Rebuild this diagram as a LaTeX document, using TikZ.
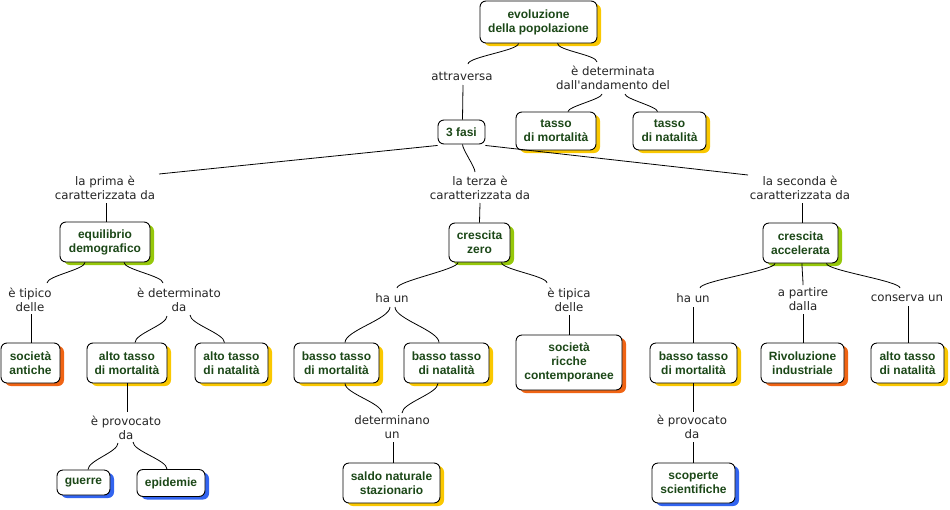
\documentclass[tikz,border=0pt]{standalone}
\usepackage{fontspec}
\setmainfont{DejaVu Sans}
\newfontfamily\cfont{Liberation Sans}
\usetikzlibrary{shadows}
\definecolor{cgreen}{RGB}{28,72,24}
\definecolor{shY}{RGB}{250,200,0}
\definecolor{shG}{RGB}{150,200,10}
\definecolor{shO}{RGB}{240,100,20}
\definecolor{shB}{RGB}{50,100,240}
\begin{document}
\begin{tikzpicture}[x=1pt,y=-1pt,
  concept/.style 2 args={draw=black, line width=0.9pt, fill=white, rounded corners=6pt,
    minimum width=#1pt, minimum height=#2pt, inner sep=1pt, align=center,
    font=\cfont\fontsize{12}{14}\selectfont\bfseries, text=cgreen},
  yel/.style={drop shadow={shadow xshift=4pt, shadow yshift=-3pt, fill=shY, opacity=1}},
  grn/.style={drop shadow={shadow xshift=4pt, shadow yshift=-3pt, fill=shG, opacity=1}},
  org/.style={drop shadow={shadow xshift=4pt, shadow yshift=-3pt, fill=shO, opacity=1}},
  blu/.style={drop shadow={shadow xshift=4pt, shadow yshift=-3pt, fill=shB, opacity=1}},
  lab/.style={align=center, font=\fontsize{11.8}{14}\selectfont, text=black!85, inner sep=1pt},
  conn/.style={draw=black, line width=0.8pt},
  sc/.style={to path={.. controls +(0,#1) and +(0,-#1) .. (\tikztotarget)}}, sc/.default=7
]
\fill[white] (0,0) rectangle (950,509);
\path[use as bounding box] (0,0) rectangle (950,509);

% concepts
\node[concept={117}{42}, yel] (evo) at (538.5,22) {evoluzione\\della popolazione};
\node[concept={47}{24}] (fasi) at (461.5,132) {3 fasi};
\node[concept={80}{38}, yel] (tmort) at (556,131) {tasso\\di mortalità};
\node[concept={73}{38}, yel] (tnat) at (669.5,131) {tasso\\di natalità};
\node[concept={90}{40}, grn] (equil) at (105,242) {equilibrio\\demografico};
\node[concept={61}{39}, grn] (czero) at (479.5,242.5) {crescita\\zero};
\node[concept={75}{40}, grn] (caccel) at (800.5,243) {crescita\\accelerata};
\node[concept={59}{40}, org] (socant) at (30.5,363) {società\\antiche};
\node[concept={80}{40}, yel] (amortL) at (127,363) {alto tasso\\di mortalità};
\node[concept={73}{40}, yel] (anatL) at (231.5,363) {alto tasso\\di natalità};
\node[concept={85}{40}, yel] (bmortM) at (336.5,363) {basso tasso\\di mortalità};
\node[concept={85}{40}, yel] (bnatM) at (446.5,363) {basso tasso\\di natalità};
\node[concept={106}{55}, org] (ricche) at (569,362.5) {società\\ricche\\contemporanee};
\node[concept={87}{40}, yel] (bmortR) at (693.5,363) {basso tasso\\di mortalità};
\node[concept={83}{40}, org] (rivol) at (802.5,363) {Rivoluzione\\industriale};
\node[concept={73}{40}, yel] (anatR) at (907.5,363) {alto tasso\\di natalità};
\node[concept={97}{40}, yel] (saldo) at (391.5,483) {saldo naturale\\stazionario};
\node[concept={83}{40}, blu] (scop) at (693.5,483) {scoperte\\scientifiche};
\node[concept={53}{25}, blu] (guerre) at (83.5,482.5) {guerre};
\node[concept={68}{27}, blu] (epid) at (171,483) {epidemie};

% linking phrases
\node[lab] (attr) at (462,76) {attraversa};
\node[lab] (det) at (613,78) {è determinata\\dall\textquotesingle andamento del};
\node[lab] (prima) at (105,188) {la prima è\\caratterizzata da};
\node[lab] (terza) at (480,188) {la terza è\\caratterizzata da};
\node[lab] (seconda) at (800,188) {la seconda è\\caratterizzata da};
\node[lab] (tipico) at (30,300) {è tipico\\delle};
\node[lab] (determ) at (179,300) {è determinato\\da};
\node[lab] (haunM) at (392,298) {ha un};
\node[lab] (tipica) at (569,300) {è tipica\\delle};
\node[lab] (provL) at (126,428) {è provocato\\da};
\node[lab] (determinano) at (392,427) {determinano\\un};
\node[lab] (haunR) at (693,298) {ha un};
\node[lab] (partire) at (803,299) {a partire\\dalla};
\node[lab] (conserva) at (907,298) {conserva un};
\node[lab] (provR) at (692,427) {è provocato\\da};

% connectors
\draw[conn] ([xshift=-20pt]evo.south) to[sc] ([xshift=6pt,yshift=12pt]attr.center);
\draw[conn] ([xshift=19pt]evo.south) to[sc] ([xshift=-16pt,yshift=16pt]det.center);
\draw[conn] ([xshift=1pt,yshift=-9pt]attr.center) -- ([xshift=1pt]fasi.north);
\draw[conn] ([xshift=-11pt,yshift=-16pt]det.center) to[sc=5] ([xshift=12pt]tmort.north);
\draw[conn] ([xshift=12pt,yshift=-16pt]det.center) to[sc=5] ([xshift=-12pt]tnat.north);
\draw[conn] ([yshift=-1pt]fasi.south west) -- ([xshift=54pt,yshift=14pt]prima.center);
\draw[conn] ([xshift=1pt]fasi.south) to[sc=5] ([xshift=-5pt,yshift=16pt]terza.center);
\draw[conn] ([yshift=-1pt]fasi.south east) -- ([xshift=-52pt,yshift=13pt]seconda.center);
\draw[conn] ([xshift=1pt,yshift=-15pt]prima.center) -- ([xshift=1pt]equil.north);
\draw[conn] ([xshift=-20pt]equil.south) to[sc] ([xshift=17pt,yshift=17pt]tipico.center);
\draw[conn] ([xshift=19pt]equil.south) to[sc] ([xshift=-16pt,yshift=17pt]determ.center);
\draw[conn] ([xshift=1pt,yshift=-14pt]tipico.center) -- ([xshift=0.5pt]socant.north);
\draw[conn] ([xshift=-12pt,yshift=-16pt]determ.center) to[sc=9] ([xshift=8pt]amortL.north);
\draw[conn] ([xshift=11pt,yshift=-15pt]determ.center) to[sc=9] ([xshift=-7pt]anatL.north);
\draw[conn] (amortL.south) -- ([xshift=1pt,yshift=16pt]provL.center);
\draw[conn] ([xshift=-8pt,yshift=-15pt]provL.center) to[sc=9] ([xshift=4.5pt]guerre.north);
\draw[conn] ([xshift=7pt,yshift=-14pt]provL.center) to[sc=9] ([xshift=-4pt]epid.north);
\draw[conn] ([yshift=-15pt]terza.center) -- (czero.north);
\draw[conn] ([xshift=-21.5pt]czero.south) to[sc] ([xshift=5pt,yshift=10pt]haunM.center);
\draw[conn] ([xshift=22pt]czero.south) to[sc] ([xshift=-22pt,yshift=17pt]tipica.center);
\draw[conn] ([xshift=-2pt,yshift=-9pt]haunM.center) to[sc=12] ([xshift=8.5pt]bmortM.north);
\draw[conn] ([xshift=3pt,yshift=-9pt]haunM.center) to[sc=12] ([xshift=-7.5pt]bnatM.north);
\draw[conn] ([xshift=8.5pt]bmortM.south) to[sc=10] ([xshift=-10pt,yshift=14pt]determinano.center);
\draw[conn] ([xshift=-8.5pt]bnatM.south) to[sc=10] ([xshift=10pt,yshift=14pt]determinano.center);
\draw[conn] ([xshift=1pt,yshift=-15pt]determinano.center) -- ([xshift=1.5pt]saldo.north);
\draw[conn] ([yshift=-15pt]tipica.center) -- (ricche.north);
\draw[conn] ([xshift=2pt,yshift=-15pt]seconda.center) -- ([xshift=1.5pt]caccel.north);
\draw[conn] ([xshift=-25.5pt]caccel.south) to[sc] ([xshift=7pt,yshift=10pt]haunR.center);
\draw[conn] ([xshift=1.5pt]caccel.south) to[sc=6] ([yshift=14pt]partire.center);
\draw[conn] ([xshift=26pt]caccel.south) to[sc] ([xshift=-7pt,yshift=10pt]conserva.center);
\draw[conn] ([yshift=-9pt]haunR.center) -- ([xshift=-0.5pt]bmortR.north);
\draw[conn] ([yshift=-15pt]partire.center) -- ([xshift=0.5pt]rivol.north);
\draw[conn] ([xshift=1pt,yshift=-8pt]conserva.center) -- ([xshift=0.5pt]anatR.north);
\draw[conn] ([xshift=-0.5pt]bmortR.south) -- ([xshift=1pt,yshift=15pt]provR.center);
\draw[conn] ([xshift=1pt,yshift=-15pt]provR.center) -- ([xshift=-0.5pt]scop.north);
\end{tikzpicture}
\end{document}
